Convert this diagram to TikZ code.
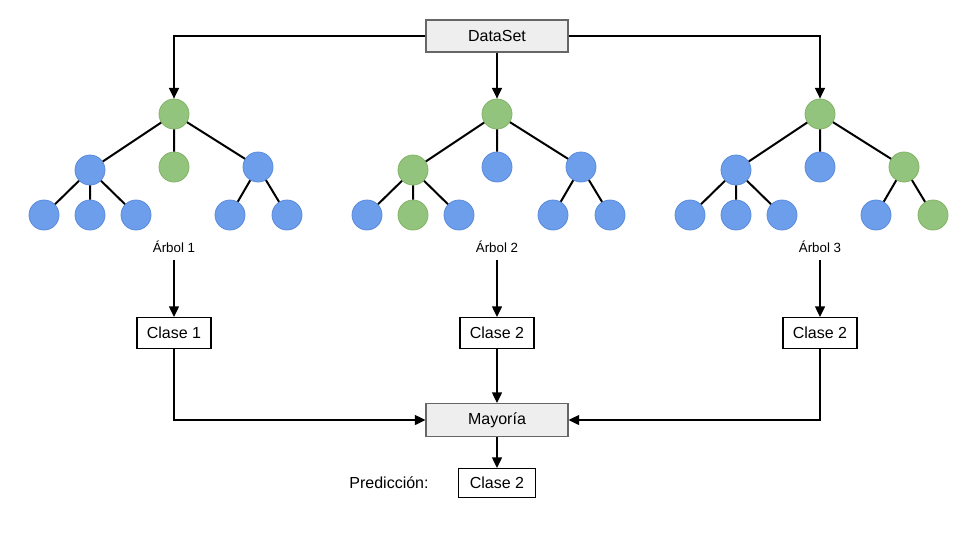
\documentclass[tikz,border=0pt]{standalone}
\usepackage{fontspec}
\setmainfont{Liberation Sans}
\usepackage{xcolor}
\usepackage{tikz}
\usetikzlibrary{positioning,arrows.meta}

\definecolor{pathgreen}{HTML}{93C47D}
\definecolor{pathgreenline}{HTML}{82B366}
\definecolor{treeblue}{HTML}{6D9EEB}
\definecolor{treeblueline}{HTML}{5B8BDB}
\definecolor{boxgray}{HTML}{EEEEEE}
\definecolor{boxline}{HTML}{666666}

\begin{document}
\begin{tikzpicture}[x=0.75pt, y=-0.75pt, >={Triangle[length=8pt,width=7.5pt]},
		font=\fontsize{12}{14}\selectfont,
		pathnode/.style={circle, fill=pathgreen, draw=pathgreenline, line width=0.6pt, minimum size=22.5pt, inner sep=0pt},
		treenode/.style={circle, fill=treeblue, draw=treeblueline, line width=0.6pt, minimum size=22.5pt, inner sep=0pt},
		greybox/.style={draw=boxline, fill=boxgray, line width=0.8pt, minimum width=106.5pt, minimum height=24pt, inner sep=0pt},
		classbox/.style={draw, fill=white, line width=0.8pt, minimum width=55.5pt, minimum height=23.25pt, inner sep=0pt},
		treelabel/.style={font=\fontsize{10}{12}\selectfont, inner sep=5pt},
		edge/.style={line width=1.5pt},
		flow/.style={->, line width=1.1pt}]
		\useasboundingbox (0,0) rectangle (960,540);

		\node[greybox] (ds) at (497,36) {DataSet};

		% Arbol 1
		\node[pathnode] (t1) at (174,114) {};
		\node[treenode] (t1-a) at ([shift={(-84,56)}]t1) {};
		\node[pathnode] (t1-b) at ([shift={(0,53)}]t1) {};
		\node[treenode] (t1-c) at ([shift={(84,53)}]t1) {};
		\node[treenode] (t1-aa) at ([shift={(-130,101)}]t1) {};
		\node[treenode] (t1-ab) at ([shift={(-84,101)}]t1) {};
		\node[treenode] (t1-ac) at ([shift={(-38,101)}]t1) {};
		\node[treenode] (t1-ca) at ([shift={(56,101)}]t1) {};
		\node[treenode] (t1-cb) at ([shift={(113,101)}]t1) {};

		% Arbol 2
		\node[pathnode] (t2) at (497,114) {};
		\node[pathnode] (t2-a) at ([shift={(-84,56)}]t2) {};
		\node[treenode] (t2-b) at ([shift={(0,53)}]t2) {};
		\node[treenode] (t2-c) at ([shift={(84,53)}]t2) {};
		\node[treenode] (t2-aa) at ([shift={(-130,101)}]t2) {};
		\node[pathnode] (t2-ab) at ([shift={(-84,101)}]t2) {};
		\node[treenode] (t2-ac) at ([shift={(-38,101)}]t2) {};
		\node[treenode] (t2-ca) at ([shift={(56,101)}]t2) {};
		\node[treenode] (t2-cb) at ([shift={(113,101)}]t2) {};

		% Arbol 3
		\node[pathnode] (t3) at (820,114) {};
		\node[treenode] (t3-a) at ([shift={(-84,56)}]t3) {};
		\node[treenode] (t3-b) at ([shift={(0,53)}]t3) {};
		\node[pathnode] (t3-c) at ([shift={(84,53)}]t3) {};
		\node[treenode] (t3-aa) at ([shift={(-130,101)}]t3) {};
		\node[treenode] (t3-ab) at ([shift={(-84,101)}]t3) {};
		\node[treenode] (t3-ac) at ([shift={(-38,101)}]t3) {};
		\node[treenode] (t3-ca) at ([shift={(56,101)}]t3) {};
		\node[pathnode] (t3-cb) at ([shift={(113,101)}]t3) {};

		\foreach \i in {1,2,3} {
			\draw[edge] (t\i) -- (t\i-a) (t\i) -- (t\i-b) (t\i) -- (t\i-c);
			\draw[edge] (t\i-a) -- (t\i-aa) (t\i-a) -- (t\i-ab) (t\i-a) -- (t\i-ac);
			\draw[edge] (t\i-c) -- (t\i-ca) (t\i-c) -- (t\i-cb);
		}

		\node[treelabel] (l1) at (174,247) {Árbol 1};
		\node[treelabel] (l2) at (497,247) {Árbol 2};
		\node[treelabel] (l3) at (820,247) {Árbol 3};

		\node[classbox] (c1) at (174,333) {Clase 1};
		\node[classbox] (c2) at (497,333) {Clase 2};
		\node[classbox] (c3) at (820,333) {Clase 2};

		\node[greybox, minimum height=24.75pt] (maj) at (497,420) {Mayoría};
		\node[classbox, minimum width=57.75pt, minimum height=21.75pt] (pred) at (497,483) {Clase 2};
		\node (predlabel) at (389,483) {Predicción:};

		\draw[flow] (ds.west) -| (t1);
		\draw[flow] (ds) -- (t2);
		\draw[flow] (ds.east) -| (t3);
		\foreach \i in {1,2,3}
			\draw[flow] (l\i) -- (c\i);
		\draw[flow] (c1) |- (maj);
		\draw[flow] (c2) -- (maj);
		\draw[flow] (c3) |- (maj);
		\draw[flow] (maj) -- (pred);
	\end{tikzpicture}
\end{document}
